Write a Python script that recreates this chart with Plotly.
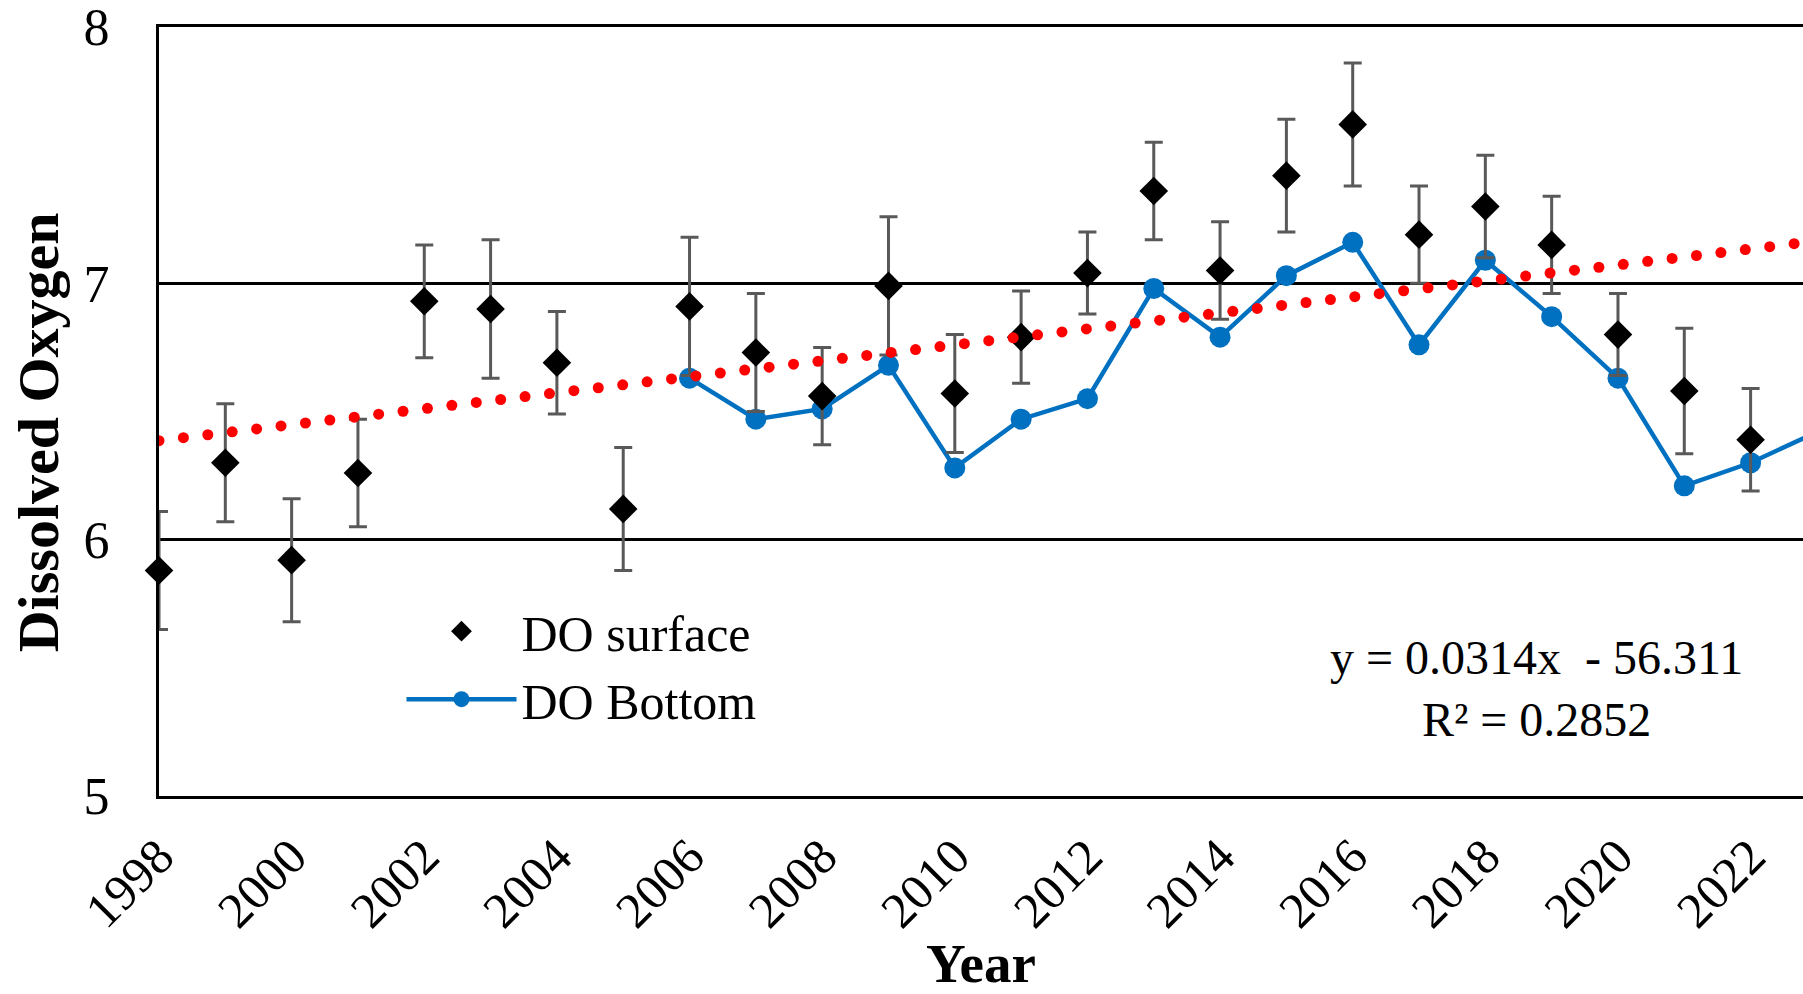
import numpy as np
import plotly.graph_objects as go

# ---- data ----
years_surface = [1998, 1999, 2000, 2001, 2002, 2003, 2004, 2005, 2006, 2007, 2008, 2009, 2010,
                 2011, 2012, 2013, 2014, 2015, 2016, 2017, 2018, 2019, 2020, 2021, 2022, 2023]
do_surface = [5.88, 6.30, 5.92, 6.26, 6.93, 6.90, 6.69, 6.12, 6.91, 6.73, 6.56, 6.99, 6.57,
              6.79, 7.04, 7.36, 7.05, 7.42, 7.62, 7.19, 7.30, 7.15, 6.80, 6.58, 6.39, 6.72]
do_surface_err = [0.23, 0.23, 0.24, 0.21, 0.22, 0.27, 0.20, 0.24, 0.27, 0.23, 0.19, 0.27, 0.23,
                  0.18, 0.16, 0.19, 0.19, 0.22, 0.24, 0.19, 0.20, 0.19, 0.16, 0.245, 0.20, 0.20]

years_bottom = [2006, 2007, 2008, 2009, 2010, 2011, 2012, 2013, 2014, 2015, 2016, 2017,
                2018, 2019, 2020, 2021, 2022, 2023]
do_bottom = [6.63, 6.47, 6.51, 6.68, 6.28, 6.47, 6.55, 6.98, 6.79, 7.03, 7.16, 6.76,
             7.09, 6.87, 6.63, 6.21, 6.30, 6.42]

x_tick_vals = [1998, 2000, 2002, 2004, 2006, 2008, 2010, 2012, 2014, 2016, 2018, 2020, 2022]
y_tick_vals = [5, 6, 7, 8]

equation_text = "y = 0.0314x\u00a0 - 56.311<br>R² = 0.2852"

# linear trend of surface DO (as in the spreadsheet trendline)
slope, intercept = np.polyfit(years_surface, do_surface, 1)
trend_x = np.arange(years_surface[0], years_surface[-1] + 1e-9, 0.368)
trend_y = slope * trend_x + intercept

FONT = "Liberation Serif"

fig = go.Figure()

fig.add_trace(go.Scatter(
    x=years_bottom, y=do_bottom, name="DO Bottom", mode="lines+markers",
    line=dict(color="#0070C0", width=4.5),
    marker=dict(symbol="circle", size=21, color="#0070C0"),
    legendrank=2,
))

fig.add_trace(go.Scatter(
    x=years_surface, y=do_surface, name="DO surface", mode="markers",
    marker=dict(symbol="diamond", size=22, color="black"),
    error_y=dict(type="data", array=do_surface_err, visible=True,
                 color="#595959", thickness=3, width=9),
    cliponaxis=False,
    legendrank=1,
))

fig.add_trace(go.Scatter(
    x=trend_x, y=trend_y, mode="markers", showlegend=False,
    marker=dict(symbol="circle", size=11, color="#FF0000"),
    hoverinfo="skip",
))

fig.update_layout(
    width=1803, height=994,
    paper_bgcolor="white", plot_bgcolor="white",
    margin=dict(l=159, r=0, t=27, b=198, autoexpand=False),
    font=dict(family=FONT, color="black"),
    showlegend=True,
    legend=dict(
        x=0.1475, y=0.265, xanchor="left", yanchor="top",
        font=dict(family=FONT, size=50, color="black"),
        bgcolor="rgba(0,0,0,0)", tracegroupgap=0, itemsizing="trace",
        itemwidth=110,
    ),
    xaxis=dict(
        range=[1998, 2022.79], tickvals=x_tick_vals, ticktext=[str(v) for v in x_tick_vals],
        tickangle=-45, tickfont=dict(family=FONT, size=50, color="black"),
        showgrid=False, zeroline=False, showline=True, linecolor="black", linewidth=3,
        mirror=True, ticks="", automargin=False, ticklabelstandoff=8,
        ticklabeloverflow="allow",
    ),
    yaxis=dict(
        range=[5, 8], tickvals=y_tick_vals, tickfont=dict(family=FONT, size=52, color="black"),
        showgrid=True, gridcolor="black", gridwidth=3, zeroline=False,
        showline=True, linecolor="black", linewidth=3, mirror=False,
        ticks="", automargin=False, ticklabelstandoff=36,
        ticklabeloverflow="allow",
    ),
    annotations=[
        dict(text="<b>Year</b>", xref="paper", yref="paper", x=0.5, y=-0.175,
             xanchor="center", yanchor="top", showarrow=False,
             font=dict(family=FONT, size=55, color="black")),
        dict(text="<b>Dissolved Oxygen</b>", xref="paper", yref="paper", x=-0.0736, y=0.473,
             xanchor="center", yanchor="middle", textangle=-90, showarrow=False,
             font=dict(family=FONT, size=58, color="black")),
        dict(text=equation_text, xref="paper", yref="paper", x=0.838, y=0.14,
             xanchor="center", yanchor="middle", align="center", showarrow=False,
             font=dict(family=FONT, size=48, color="black")),
    ],
)

fig.write_html("out.html", config={"displayModeBar": False},
               post_script="document.body.style.margin='0';")
